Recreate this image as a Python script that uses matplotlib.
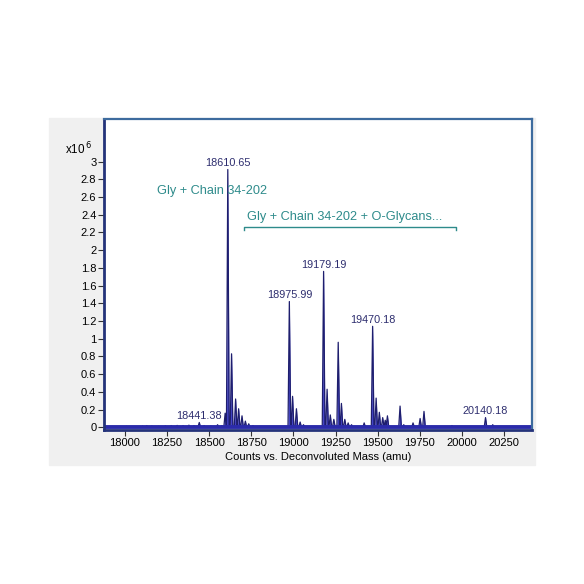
import numpy as np
import matplotlib.pyplot as plt
from matplotlib.patches import Rectangle

plt.rcParams['font.family'] = ['Liberation Sans', 'DejaVu Sans']

# deconvoluted mass (amu) and counts (x10^6) of the peaks
peak_mass = [17925, 17960, 18010, 18060, 18105, 18130, 18160, 18200, 18240,
             18275, 18310, 18345, 18380, 18410, 18441.38, 18470, 18510, 18550,
             18575, 18595, 18610.65, 18633, 18657, 18675, 18695, 18715, 18735,
             18760, 18800, 18975.99, 18995, 19018, 19040, 19060, 19179.19,
             19200, 19219, 19240, 19266, 19285, 19305, 19325, 19345, 19420,
             19470.18, 19491, 19510, 19530, 19545, 19558, 19633, 19655, 19710,
             19752, 19775, 19820, 19941, 20140.18, 20183, 20300]
peak_height = [0.01, 0.01, 0.012, 0.01, 0.015, 0.02, 0.015, 0.012, 0.018,
               0.02, 0.022, 0.02, 0.025, 0.02, 0.055, 0.02, 0.015, 0.03,
               0.02, 0.16, 2.91, 0.83, 0.32, 0.21, 0.13, 0.07, 0.04,
               0.02, 0.01, 1.42, 0.35, 0.21, 0.06, 0.03, 1.76,
               0.43, 0.14, 0.09, 0.96, 0.27, 0.09, 0.05, 0.03, 0.05,
               1.14, 0.33, 0.17, 0.11, 0.08, 0.13, 0.24, 0.03, 0.05,
               0.10, 0.18, 0.01, 0.02, 0.11, 0.03, 0.01]

labelled_mass = [18441.38, 18610.65, 18975.99, 19179.19, 19470.18, 20140.18]

y_ticks = [0, 0.2, 0.4, 0.6, 0.8, 1, 1.2, 1.4, 1.6, 1.8, 2, 2.2, 2.4, 2.6, 2.8, 3]
x_ticks = [18000, 18250, 18500, 18750, 19000, 19250, 19500, 19750, 20000, 20250]

navy = '#1e1e6e'
fill_blue = '#4545c8'
teal = '#2e8b8b'
half_width = 8

fig = plt.figure(figsize=(5.84, 5.84), dpi=100)
fig.patches.append(Rectangle((49 / 584, 1 - 465 / 584), 486 / 584, 347 / 584,
                             transform=fig.transFigure, color='#f0f0f0', zorder=-10))

ax = fig.add_axes([104 / 584, 1 - 430 / 584, 428 / 584, 311 / 584])
ax.set_facecolor('white')

# each peak as a narrow triangle
xs, ys = [], []
for m, h in sorted(zip(peak_mass, peak_height)):
    xs += [m - half_width, m, m + half_width]
    ys += [0, h, 0]
ax.fill_between(xs, ys, color=fill_blue, lw=0)
ax.plot(xs, ys, color=navy, lw=0.9)
ax.axhline(0, color='#2b2baa', lw=2.8)

for m in labelled_mass:
    h = peak_height[peak_mass.index(m)]
    ax.annotate(f'{m:.2f}', (m, h), xytext=(0, 1), textcoords='offset points',
                ha='center', va='bottom', fontsize=7.8, color='#2d2d6e')

ax.text(18189, 2.67, 'Gly + Chain 34-202', color=teal, fontsize=9.2, va='center')
ax.text(18722, 2.37, 'Gly + Chain 34-202 + O-Glycans...', color=teal, fontsize=9.2,
        va='center')
ax.plot([18704, 18704, 19964, 19964], [2.23, 2.26, 2.26, 2.23], color=teal, lw=1)

ax.set_xlim(17876, 20416)
ax.set_ylim(-0.03, 3.48)
ax.set_xticks(x_ticks)
ax.set_yticks(y_ticks)
ax.set_yticklabels([f'{v:g}' for v in y_ticks])
ax.tick_params(labelsize=8, length=4, width=0.8, color='#333333', pad=1.5)

for side in ['top', 'right']:
    ax.spines[side].set_color('#3d6b9e')
    ax.spines[side].set_linewidth(1.6)
for side in ['left', 'bottom']:
    ax.spines[side].set_color('#24337a')
    ax.spines[side].set_linewidth(2)

ax.set_xlabel('Counts vs. Deconvoluted Mass (amu)', fontsize=8)
ax.xaxis.set_label_coords(0.5, -0.087)
ax.xaxis.label.set_va('center')

fig.text(92 / 584, 1 - 149 / 584, r'x10$^{\,6}$', fontsize=8.4, ha='right', va='center')

fig.savefig('out.png', dpi=100)
